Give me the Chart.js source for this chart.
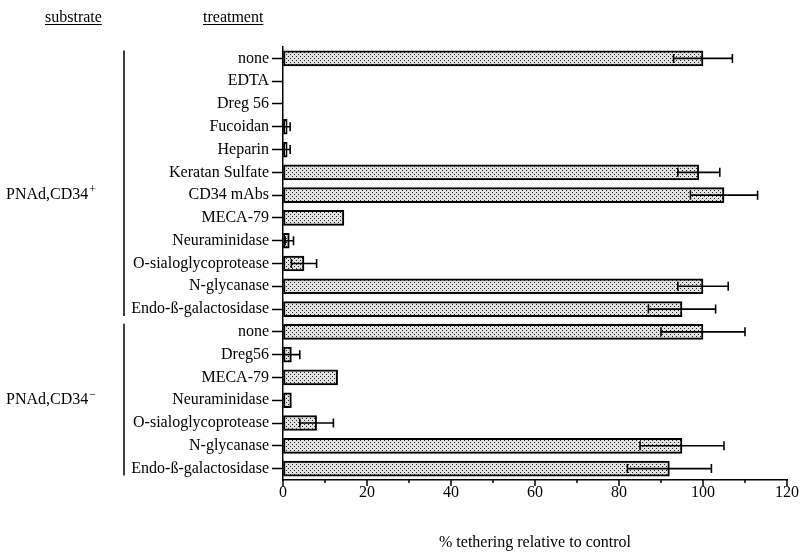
<!DOCTYPE html>
<html>
<head>
<meta charset="utf-8">
<script src="https://cdn.jsdelivr.net/npm/chart.js@4"></script>
<style>
  html, body { margin: 0; padding: 0; background: #fff; }
  #wrap { width: 802px; height: 552px; }
</style>
</head>
<body>
<div id="wrap"><canvas id="chart" width="802" height="552"></canvas></div>
<script>
const treatments = [
	'none', 'EDTA', 'Dreg 56', 'Fucoidan', 'Heparin', 'Keratan Sulfate', 'CD34 mAbs',
	'MECA-79', 'Neuraminidase', 'O-sialoglycoprotease', 'N-glycanase', 'Endo-ß-galactosidase',
	'none', 'Dreg56', 'MECA-79', 'Neuraminidase', 'O-sialoglycoprotease', 'N-glycanase', 'Endo-ß-galactosidase'
];
const tethering = [100, 0, 0, 1, 1, 99, 105, 14.5, 1.5, 5, 100, 95, 100, 2, 13, 2, 8, 95, 92];
const tetheringErr = [7, 0, 0, 0.7, 0.7, 5, 8, 0, 1, 3, 6, 8, 10, 2, 0, 0, 4, 10, 10];
const substrates = ['PNAd,CD34', 'PNAd,CD34'];
const substrateSigns = ['+', '\u2212'];
const groupSizes = [12, 7];

const serif = '"Liberation Serif", "Times New Roman", serif';
Chart.defaults.font.family = serif;
Chart.defaults.font.size = 16;
Chart.defaults.color = '#000';

const canvas = document.getElementById('chart');

function stipple() {
	const c = document.createElement('canvas');
	c.width = 4;
	c.height = 4;
	const g = c.getContext('2d');
	g.fillStyle = '#e2e2e2';
	g.fillRect(0, 0, 4, 4);
	g.fillStyle = '#222';
	g.fillRect(0, 0, 1, 1);
	g.fillRect(2, 2, 1, 1);
	return canvas.getContext('2d').createPattern(c, 'repeat');
}

const extras = {
	id: 'extras',
	afterDatasetsDraw(chart) {
		const ctx = chart.ctx;
		const xs = chart.scales.x;
		const meta = chart.getDatasetMeta(0);
		ctx.save();
		ctx.strokeStyle = '#000';
		ctx.lineWidth = 1.6;
		tetheringErr.forEach((e, i) => {
			if (!e) return;
			const cy = meta.data[i].y;
			const x1 = xs.getPixelForValue(Math.max(0, tethering[i] - e));
			const x2 = xs.getPixelForValue(tethering[i] + e);
			ctx.beginPath();
			ctx.moveTo(x1, cy);
			ctx.lineTo(x2, cy);
			ctx.moveTo(x1, cy - 4.5);
			ctx.lineTo(x1, cy + 4.5);
			ctx.moveTo(x2, cy - 4.5);
			ctx.lineTo(x2, cy + 4.5);
			ctx.stroke();
		});
		ctx.restore();
	},
	afterDraw(chart) {
		const ctx = chart.ctx;
		const xs = chart.scales.x;
		const ys = chart.scales.y;
		const area = chart.chartArea;
		ctx.save();
		ctx.strokeStyle = '#000';
		ctx.fillStyle = '#000';

		// x ticks, long every 20, short every 10
		ctx.lineWidth = 1.5;
		ctx.beginPath();
		for (let v = 0; v <= 120; v += 10) {
			const px = xs.getPixelForValue(v);
			ctx.moveTo(px, area.bottom);
			ctx.lineTo(px, area.bottom + (v % 20 === 0 ? 6 : 3));
		}
		ctx.stroke();

		// column headers
		ctx.font = '16px ' + serif;
		ctx.textBaseline = 'alphabetic';
		ctx.lineWidth = 1;
		[['substrate', 45], ['treatment', 203]].forEach(([t, x0]) => {
			ctx.fillText(t, x0, 22);
			const w = ctx.measureText(t).width;
			ctx.beginPath();
			ctx.moveTo(x0, 24.5);
			ctx.lineTo(x0 + w, 24.5);
			ctx.stroke();
		});

		// substrate groups
		let start = 0;
		groupSizes.forEach((n, gi) => {
			const end = start + n - 1;
			const top = ys.getPixelForValue(start) - 8;
			const bottom = ys.getPixelForValue(end) + 7;
			ctx.lineWidth = 1.5;
			ctx.beginPath();
			ctx.moveTo(124, top);
			ctx.lineTo(124, bottom);
			ctx.stroke();

			const cy = ys.getPixelForValue(start + Math.floor(n / 2));
			ctx.font = '16px ' + serif;
			ctx.textBaseline = 'middle';
			ctx.fillText(substrates[gi], 6, cy);
			const w = ctx.measureText(substrates[gi]).width;
			ctx.font = '12px ' + serif;
			ctx.fillText(substrateSigns[gi], 6 + w + 1, cy - 5);
			start += n;
		});
		ctx.restore();
	}
};

new Chart(canvas.getContext('2d'), {
	type: 'bar',
	data: {
		labels: treatments,
		datasets: [{
			data: tethering,
			backgroundColor: stipple(),
			borderColor: '#000',
			borderWidth: 2,
			borderSkipped: false,
			barThickness: 15
		}]
	},
	options: {
		indexAxis: 'y',
		responsive: false,
		animation: false,
		layout: { padding: { top: 47, right: 15, bottom: 0, left: 0 } },
		plugins: {
			legend: { display: false },
			tooltip: { enabled: false }
		},
		scales: {
			x: {
				min: 0,
				max: 120,
				afterFit: s => { s.height = 72; },
				ticks: { stepSize: 20, padding: 3, maxRotation: 0 },
				grid: { drawOnChartArea: false, drawTicks: false },
				border: { display: true, color: '#000', width: 1.5 },
				title: {
					display: true,
					text: '% tethering relative to control',
					font: { size: 16 },
					padding: { top: 0, bottom: 0 }
				}
			},
			y: {
				afterFit: s => { s.width = 283; },
				ticks: { autoSkip: false, padding: 3 },
				grid: { offset: false, drawOnChartArea: false, tickLength: 11, tickColor: '#000', tickWidth: 1.5 },
				border: { display: true, color: '#000', width: 1.5 }
			}
		}
	},
	plugins: [extras]
});
</script>
</body>
</html>
